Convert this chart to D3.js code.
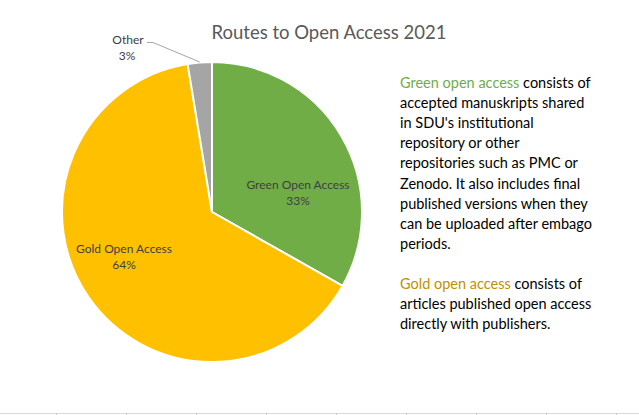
<!DOCTYPE html>
<html>
<head>
<meta charset="utf-8">
<script src="https://cdn.jsdelivr.net/npm/d3@7"></script>
<style>
  html, body { margin: 0; padding: 0; background: #fff; }
  svg { display: block; }
  text { font-family: Lato, "Open Sans", sans-serif; }
</style>
</head>
<body>
<svg id="chart" width="639" height="415"></svg>
<script>
const categories = ["Green Open Access", "Gold Open Access", "Other"];
const values = [33.2, 64.2, 2.6];
const colors = ["#70ad47", "#ffc000", "#a5a5a5"];
const title = "Routes to Open Access 2021";
const noteLines = [
  [["Green open access", "#70ad47"], [" consists of", "#000"]],
  [["accepted manuskripts shared", "#000"]],
  [["in SDU's institutional", "#000"]],
  [["repository or other", "#000"]],
  [["repositories such as PMC or", "#000"]],
  [["Zenodo. It also includes final", "#000"]],
  [["published versions when they", "#000"]],
  [["can be uploaded after embago", "#000"]],
  [["periods.", "#000"]],
  [],
  [["Gold open access", "#bf9000"], [" consists of", "#000"]],
  [["articles published open access", "#000"]],
  [["directly with publishers.", "#000"]]
];
const gridTicks = [56, 126, 196, 266, 336, 406, 476, 546, 616];

const svg = d3.select("#chart");
const W = 639, H = 415;
const cx = 212, cy = 212, R = 150;

// faint sheet gridline at bottom
svg.append("line").attr("x1", 0).attr("x2", W).attr("y1", 413.5).attr("y2", 413.5)
  .attr("stroke", "#d9d9d9").attr("stroke-width", 1);
svg.selectAll("line.tick").data(gridTicks).enter().append("line")
  .attr("x1", d => d + 0.5).attr("x2", d => d + 0.5).attr("y1", 413).attr("y2", 415)
  .attr("stroke", "#c8c8c8");

// title
svg.append("text").attr("x", 329).attr("y", 39).attr("text-anchor", "middle")
  .attr("font-size", 18.5).attr("fill", "#595959").text(title);

const data = categories.map((c, i) => ({ name: c, value: values[i], color: colors[i] }));
const pie = d3.pie().value(d => d.value).sort(null);
const arcs = pie(data);
const arc = d3.arc().innerRadius(0).outerRadius(R);

const g = svg.append("g").attr("transform", `translate(${cx},${cy})`);
g.selectAll("path").data(arcs).enter().append("path")
  .attr("d", arc).attr("fill", d => d.data.color)
  .attr("stroke", "#fff").attr("stroke-width", 2).attr("stroke-linejoin", "round");

const fmt = d3.format(".0%");
const total = d3.sum(values);

// inside labels (positions as placed in the reference)
const labelPos = [[86, -23], [-88, 41]];
[0, 1].forEach(i => {
  const a = arcs[i];
  const [x, y] = labelPos[i];
  const t = g.append("text").attr("text-anchor", "middle").attr("font-size", 12)
    .attr("fill", "#404040");
  t.append("tspan").attr("x", x).attr("y", y).text(a.data.name);
  t.append("tspan").attr("x", x).attr("y", y + 16).text(fmt(a.data.value / total));
});

// Other: outside label with leader
const other = arcs[2];
const outer = d3.arc().innerRadius(R).outerRadius(R);
const [ex, ey] = outer.centroid(other);
g.append("polyline")
  .attr("points", [[ex, ey - 0.5], [-59, -169.5], [-65, -169.5]].map(p => p.join(",")).join(" "))
  .attr("fill", "none").attr("stroke", "#a6a6a6").attr("stroke-width", 1);
const ot = g.append("text").attr("text-anchor", "middle").attr("font-size", 12).attr("fill", "#404040");
ot.append("tspan").attr("x", -84).attr("y", -168).text("Other");
ot.append("tspan").attr("x", -85).attr("y", -152).text(fmt(other.data.value / total));

// right note
const note = svg.append("text").attr("font-size", 14.5).attr("xml:space", "preserve");
noteLines.forEach((parts, i) => {
  if (!parts.length) return;
  const y = 88 + i * 20.1;
  parts.forEach((p, j) => {
    const ts = note.append("tspan").attr("fill", p[1]).text(p[0]);
    if (j === 0) ts.attr("x", 400).attr("y", y);
  });
});
</script>
</body>
</html>
